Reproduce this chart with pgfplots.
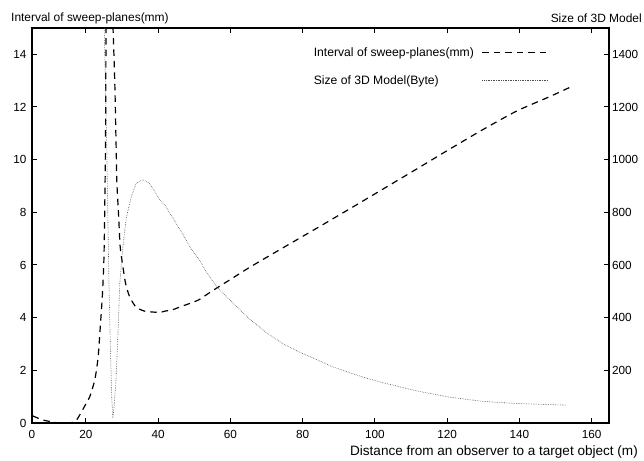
\documentclass[border=0pt]{standalone}
\usepackage{fontspec}
\setmainfont{Liberation Sans}
\usepackage{pgfplots}
\pgfplotsset{compat=1.18}

\begin{document}
\begin{tikzpicture}[font=\fontsize{12}{14}\selectfont]
\pgfplotsset{
  common/.style={
    scale only axis, width=577bp, height=395bp,
    xmin=5.1, xmax=164.8,
    line width=1.6bp,
    tick align=inside,
    major tick length=5bp,
    every tick/.style={black, line width=1bp},
    axis line style={line width=1.6bp},
    /pgf/number format/assume math mode=true,
    /pgf/number format/set thousands separator={},
    ticklabel style={font=\fontsize{11.8}{13}\selectfont},
    clip=true,
  },
  dashedline/.style={black, line width=1.2bp, dash pattern=on 6.5bp off 5bp, smooth, tension=0.4},
  dottedline/.style={black!70, line width=0.6bp, dash pattern=on 0.6bp off 1.1bp},
}
\begin{axis}[common,
  ymin=0, ymax=15,
  xtick={20,40,...,160},
  extra x ticks={5.1}, extra x tick labels={0},
  extra x tick style={major tick length=0pt},
  xticklabel style={yshift=-3bp},
  ytick={0,2,...,14},
  yticklabel style={xshift=-1.5bp},
  ytick pos=left, xtick pos=both, xticklabel pos=bottom,
  legend plot pos=right,
  legend cell align=left,
  legend style={draw=none, fill=none, at={(rel axis cs:0.487,0.951)}, anchor=north west,
    row sep=17bp, column sep=8bp, nodes={inner sep=0pt},
    font=\fontsize{12.2}{14}\selectfont, inner sep=0pt},
  legend image code/.code={\draw[#1, sharp plot] (0bp,0.5bp) -- (66bp,0.5bp);},
]
\coordinate (ll) at (rel axis cs:0,0);
\coordinate (ur) at (rel axis cs:1,1);
\addplot[dashedline] coordinates {
(5.3,0.27) (7,0.17) (8.5,0.1) (10,0.06) (11.9,0.01) (14,0) (16.2,0.02) (17.6,0.15) (18.9,0.45)
(20,0.72) (21.1,1.0) (22.5,1.65) (23.4,2.5) (24.0,3.65) (24.6,4.9) (25.0,6.2)
(25.2,7.8) (25.4,10) (25.5,12) (25.6,15.5)
};
\addlegendentry{Interval of sweep-planes(mm)}
\addplot[dashedline, forget plot] coordinates {
(27.4,15.5) (28.0,13) (28.4,10.4) (28.6,9.1) (29.1,7.8) (29.5,6.7) (30.3,5.9) (31.0,5.3)
(32.1,4.8) (33.9,4.4) (36.2,4.25) (38,4.22) (40.4,4.2) (42,4.25) (44.0,4.3) (46.7,4.44)
(49,4.55) (51.3,4.68) (53.5,4.88) (56.4,5.14) (60.6,5.5) (65.2,5.9) (74.4,6.64)
(83.7,7.38) (93.0,8.13) (102.2,8.88) (111.5,9.64) (120.7,10.4) (130,11.15)
(139.3,11.85) (148.5,12.4) (154.8,12.8)
};
\addlegendimage{dottedline}
\addlegendentry{Size of 3D Model(Byte)}
\end{axis}
\begin{axis}[common,
  ymin=0, ymax=1500,
  axis x line=none, axis y line*=right,
  ytick={200,400,...,1400},
  yticklabel style={xshift=-1bp},
]
\addplot[dottedline] coordinates {
(25.0,1550) (25.4,1300) (25.8,1050) (26.1,780) (26.4,530) (26.8,280) (27.2,86)
(27.5,20) (27.8,60) (28.3,150) (28.9,340) (29.4,530) (30.1,650) (31.2,780)
(32.6,860) (33.9,910) (35.8,924) (37.6,910) (40.4,850) (42,825) (44,780) (46.7,720)
(49,665) (51.4,620) (53.5,570) (56.4,514) (60.6,457) (65.2,396) (69.8,345)
(74.4,302) (79,270) (83.7,242) (88,215) (93,191) (97.5,171) (102.2,153) (111.5,122) (120.7,98) (130,82)
(139.3,74) (146,71) (153,68)
};
\end{axis}
\node[anchor=base west, inner sep=0pt] at ([shift={(-21bp,6bp)}]ll |- ur) {Interval of sweep-planes(mm)};
\node[anchor=base east, inner sep=0pt] at ([shift={(33bp,5bp)}]ur) {Size of 3D Model};
\node[anchor=base east, inner sep=0pt, font=\fontsize{13.6}{16}\selectfont] at ([shift={(29bp,-32bp)}]ur |- ll) {Distance from an observer to a target object (m)};
\pgfresetboundingbox
\path[use as bounding box] ([shift={(-32bp,-38bp)}]ll) rectangle ([shift={(35bp,28bp)}]ur);
\end{tikzpicture}
\end{document}
